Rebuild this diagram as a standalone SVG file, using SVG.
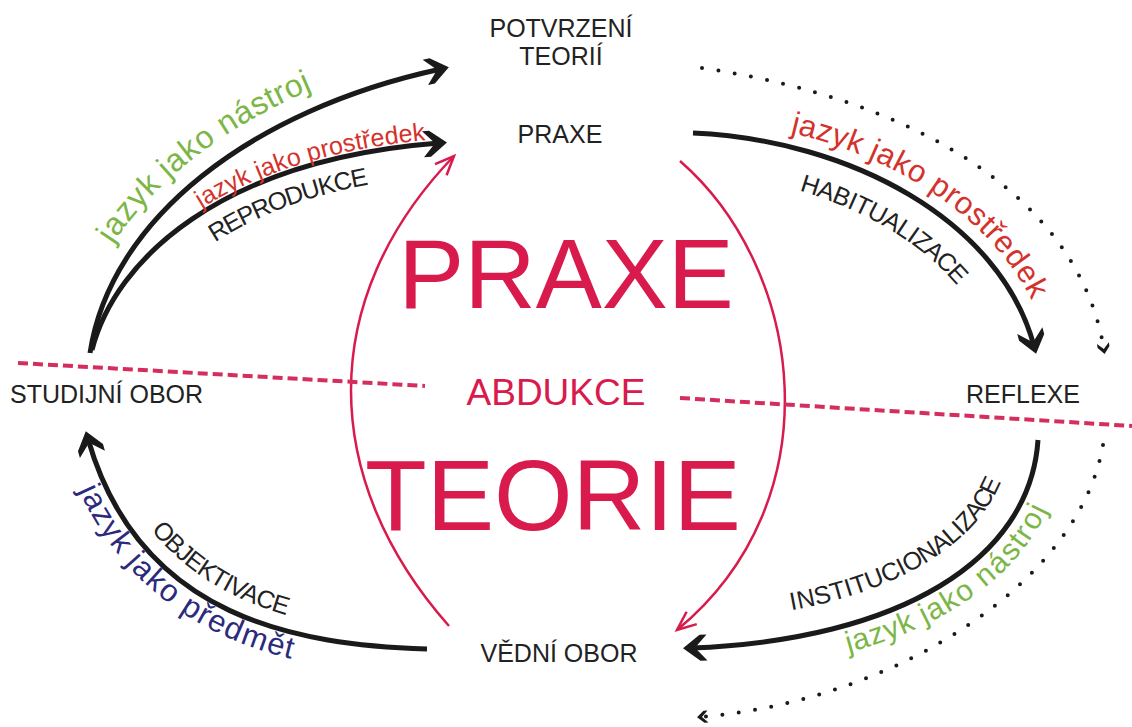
<svg xmlns="http://www.w3.org/2000/svg" xmlns:xlink="http://www.w3.org/1999/xlink" width="1132" height="727" viewBox="0 0 1132 727">
<style>
text{font-family:"Liberation Sans",Arial,sans-serif;}
.lbl{font-size:25px;fill:#222;}
.big{fill:#d81b4c;}
.green{fill:#7cb646;}
.red{fill:#d4322c;}
.blue{fill:#2b2a7c;}
.arc{fill:none;stroke:#1a1a1a;stroke-width:5;marker-end:url(#ah);}
.dot{fill:none;stroke:#1a1a1a;stroke-width:4;stroke-linecap:round;stroke-dasharray:0 16.5;marker-end:url(#dh);}
.rarc{fill:none;stroke:#d81b4c;stroke-width:2.5;marker-end:url(#rh);}
.dash{fill:none;stroke:#d42e5e;stroke-width:4;stroke-dasharray:10 5;}
</style>
<defs>
<marker id="ah" markerUnits="userSpaceOnUse" markerWidth="40" markerHeight="40" viewBox="-20 -20 40 40" refX="0" refY="0" orient="auto" overflow="visible">
<path d="M8,0 L-9,-13 L-16,-13 L-4,0 L-16,13 L-9,13 Z" fill="#1a1a1a"/>
</marker>
<marker id="dh" markerUnits="userSpaceOnUse" markerWidth="20" markerHeight="20" viewBox="-10 -10 20 20" refX="0" refY="0" orient="auto" overflow="visible">
<path d="M4,0 L-3,-6 L-7,-6 L-1,0 L-7,6 L-3,6 Z" fill="#1a1a1a"/>
</marker>
<marker id="rh" markerUnits="userSpaceOnUse" markerWidth="40" markerHeight="40" viewBox="-20 -20 40 40" refX="0" refY="0" orient="auto" overflow="visible">
<path d="M-19,-8 L0,0 L-19,8" fill="none" stroke="#d81b4c" stroke-width="2.5"/>
</marker>
<path id="pU" d="M90,353 C110,220 250,110 441,69"/>
<path id="pL" d="M92,350 C115,260 220,160 439,143"/>
<path id="pH" d="M693,133 C850,140 1000,220 1034,346"/>
<path id="pO" d="M85,432 C140,620 300,645 427,649"/>
<path id="pI" d="M691,648 C900,640 1030,560 1038,440"/>
</defs>

<g id="connectors">
<use xlink:href="#pU" class="arc"/>
<use xlink:href="#pL" class="arc"/>
<use xlink:href="#pH" class="arc"/>
<path class="arc" d="M427,649 C300,645 140,620 88,439"/>
<path class="arc" d="M1038,440 C1030,560 900,640 691,648"/>
<path class="dot" d="M702,68 C920,100 1080,200 1104,350"/>
<path class="dot" d="M1103,445 C1080,580 900,700 701,717"/>
<path class="rarc" d="M449,626 C320,480 315,300 454,156"/>
<path class="rarc" d="M680,161 C805,270 835,500 677,630"/>
<path class="dash" d="M18,363 L425,386"/>
<path class="dash" d="M680,398 L1132,426"/>
</g>

<g id="edge-labels">
<text class="green" font-size="32" dy="-19"><textPath xlink:href="#pU" startOffset="106">jazyk jako nástroj</textPath></text>
<text class="red" font-size="25" dy="-4"><textPath xlink:href="#pL" startOffset="182">jazyk jako prostředek</textPath></text>
<text class="lbl" dy="32"><textPath xlink:href="#pL" startOffset="176">REPRODUKCE</textPath></text>
<text class="red" font-size="31" dy="-14"><textPath xlink:href="#pH" startOffset="95">jazyk jako prostředek</textPath></text>
<text class="lbl" dy="40" letter-spacing="1"><textPath xlink:href="#pH" startOffset="120">HABITUALIZACE</textPath></text>
<text class="lbl" dy="-15"><textPath xlink:href="#pO" startOffset="122">OBJEKTIVACE</textPath></text>
<text class="blue" font-size="31" dy="26"><textPath xlink:href="#pO" startOffset="50">jazyk jako předmět</textPath></text>
<text class="lbl" dy="-27" letter-spacing="1"><textPath xlink:href="#pI" startOffset="106">INSTITUCIONALIZACE</textPath></text>
<text class="green" font-size="30" dy="27"><textPath xlink:href="#pI" startOffset="152">jazyk jako nástroj</textPath></text>
</g>

<g id="node-potvrzeni"><text class="lbl" x="561" y="37" text-anchor="middle">POTVRZENÍ</text><text class="lbl" x="561" y="65" text-anchor="middle">TEORIÍ</text></g>
<g id="node-praxe"><text class="lbl" x="560" y="143" text-anchor="middle">PRAXE</text></g>
<g id="node-studijni-obor"><text class="lbl" x="10" y="403">STUDIJNÍ OBOR</text></g>
<g id="node-reflexe"><text class="lbl" x="1023" y="403" text-anchor="middle">REFLEXE</text></g>
<g id="node-vedni-obor"><text class="lbl" x="559" y="662" text-anchor="middle">VĚDNÍ OBOR</text></g>
<g id="center">
<text class="big" x="566" y="308" font-size="99" text-anchor="middle">PRAXE</text>
<text class="big" x="556" y="405" font-size="37" text-anchor="middle">ABDUKCE</text>
<text class="big" x="553" y="530" font-size="101" text-anchor="middle">TEORIE</text>
</g>
</svg>
